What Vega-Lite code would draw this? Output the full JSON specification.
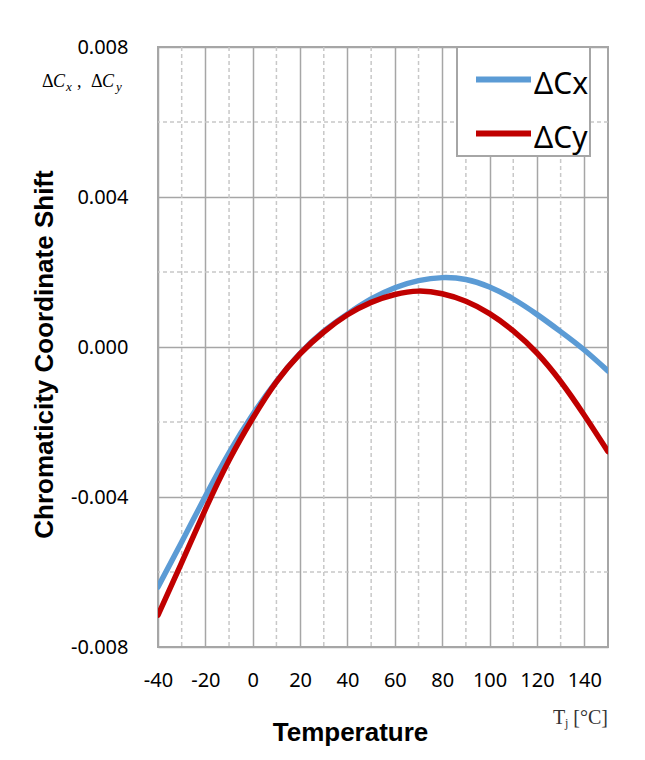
{
  "$schema": "https://vega.github.io/schema/vega-lite/v6.json",
  "autosize": "none",
  "width": 450,
  "height": 600,
  "padding": {"left": 158, "top": 47, "right": 37, "bottom": 113},
  "background": "white",
  "config": {
    "view": {"stroke": "#a6a6a6", "strokeWidth": 2},
    "font": "Noto Sans",
    "axis": {
      "domain": false,
      "ticks": false,
      "labelFont": "Noto Sans",
      "labelFontSize": 20,
      "labelColor": "#000000",
      "labelOverlap": false,
      "labelFlush": false,
      "gridColor": "#a6a6a6",
      "gridWidth": 1.5,
      "titleFont": "Liberation Sans",
      "titleFontWeight": "bold",
      "titleFontSize": 26,
      "titleColor": "#000000"
    }
  },
  "datasets": {
    "curves": [
      {"T": -40, "series": "ΔCx", "shift": -0.0064},
      {"T": -30, "series": "ΔCx", "shift": -0.0052},
      {"T": -20, "series": "ΔCx", "shift": -0.00398},
      {"T": -10, "series": "ΔCx", "shift": -0.00282},
      {"T": 0, "series": "ΔCx", "shift": -0.0018},
      {"T": 10, "series": "ΔCx", "shift": -0.00092},
      {"T": 20, "series": "ΔCx", "shift": -0.00017},
      {"T": 30, "series": "ΔCx", "shift": 0.00042},
      {"T": 40, "series": "ΔCx", "shift": 0.00088},
      {"T": 50, "series": "ΔCx", "shift": 0.00128},
      {"T": 60, "series": "ΔCx", "shift": 0.00158},
      {"T": 70, "series": "ΔCx", "shift": 0.00177},
      {"T": 80, "series": "ΔCx", "shift": 0.00185},
      {"T": 90, "series": "ΔCx", "shift": 0.0018},
      {"T": 100, "series": "ΔCx", "shift": 0.0016},
      {"T": 110, "series": "ΔCx", "shift": 0.00128},
      {"T": 120, "series": "ΔCx", "shift": 0.00087},
      {"T": 130, "series": "ΔCx", "shift": 0.00041},
      {"T": 140, "series": "ΔCx", "shift": -0.00008},
      {"T": 150, "series": "ΔCx", "shift": -0.00064},
      {"T": -40, "series": "ΔCy", "shift": -0.00715},
      {"T": -30, "series": "ΔCy", "shift": -0.00575},
      {"T": -20, "series": "ΔCy", "shift": -0.00433},
      {"T": -10, "series": "ΔCy", "shift": -0.00302},
      {"T": 0, "series": "ΔCy", "shift": -0.0019},
      {"T": 10, "series": "ΔCy", "shift": -0.00093},
      {"T": 20, "series": "ΔCy", "shift": -0.00018},
      {"T": 30, "series": "ΔCy", "shift": 0.0004},
      {"T": 40, "series": "ΔCy", "shift": 0.00086},
      {"T": 50, "series": "ΔCy", "shift": 0.00119},
      {"T": 60, "series": "ΔCy", "shift": 0.0014},
      {"T": 70, "series": "ΔCy", "shift": 0.00149},
      {"T": 80, "series": "ΔCy", "shift": 0.00142},
      {"T": 90, "series": "ΔCy", "shift": 0.00122},
      {"T": 100, "series": "ΔCy", "shift": 0.00089},
      {"T": 110, "series": "ΔCy", "shift": 0.00043},
      {"T": 120, "series": "ΔCy", "shift": -0.00016},
      {"T": 130, "series": "ΔCy", "shift": -0.00092},
      {"T": 140, "series": "ΔCy", "shift": -0.00182},
      {"T": 150, "series": "ΔCy", "shift": -0.00279}
    ],
    "minorT": [{"T": -30}, {"T": -10}, {"T": 10}, {"T": 30}, {"T": 50}, {"T": 70}, {"T": 90}, {"T": 110}, {"T": 130}],
    "minorShift": [{"shift": -0.006}, {"shift": -0.002}, {"shift": 0.002}, {"shift": 0.006}],
    "single": [{}]
  },
  "layer": [
    {
      "data": {"name": "minorT"},
      "mark": {"type": "rule", "color": "#c8c8c8", "strokeWidth": 1.5, "strokeDash": [4, 3]},
      "encoding": {"x": {"field": "T", "type": "quantitative"}}
    },
    {
      "data": {"name": "minorShift"},
      "mark": {"type": "rule", "color": "#c8c8c8", "strokeWidth": 1.5, "strokeDash": [4, 3]},
      "encoding": {"y": {"field": "shift", "type": "quantitative"}}
    },
    {
      "data": {"name": "curves"},
      "mark": {"type": "line", "interpolate": "natural", "strokeWidth": 5.5, "strokeCap": "round", "clip": true},
      "encoding": {
        "x": {
          "field": "T",
          "type": "quantitative",
          "scale": {"domain": [-40, 150], "nice": false, "zero": false},
          "axis": {
            "values": [-40, -20, 0, 20, 40, 60, 80, 100, 120, 140],
            "labelExpr": "replace(format(datum.value, 'd'), '\u2212', '-')",
            "labelPadding": 23,
            "labelBaseline": "top",
            "grid": true,
            "title": "Temperature",
            "titleX": 192,
            "titleY": 93,
            "titleBaseline": "alphabetic"
          }
        },
        "y": {
          "field": "shift",
          "type": "quantitative",
          "scale": {"domain": [-0.008, 0.008], "nice": false, "zero": false},
          "axis": {
            "values": [-0.008, -0.004, 0, 0.004, 0.008],
            "labelExpr": "replace(format(datum.value, '.3f'), '\u2212', '-')",
            "labelPadding": 30,
            "grid": true,
            "title": "Chromaticity Coordinate Shift",
            "titleX": -106,
            "titleY": 307,
            "titleBaseline": "alphabetic",
            "titleAngle": -90
          }
        },
        "color": {
          "field": "series",
          "type": "nominal",
          "scale": {"domain": ["ΔCx", "ΔCy"], "range": ["#5b9bd5", "#c00000"]},
          "legend": {
            "orient": "none",
            "legendX": 299,
            "legendY": 0,
            "title": null,
            "fillColor": "#ffffff",
            "strokeColor": "#a6a6a6",
            "padding": 2,
            "symbolType": "stroke",
            "symbolSize": 3025,
            "symbolStrokeWidth": 6,
            "symbolOffset": 14,
            "labelFont": "Noto Sans",
            "labelFontSize": 30,
            "labelColor": "#000000",
            "labelOffset": 0,
            "rowPadding": 3,
            "labelLimit": 200,
            "encode": {
              "legend": {"update": {"strokeWidth": {"value": 2}}},
              "labels": {"update": {"dy": {"value": 5}}}
            }
          }
        }
      }
    },
    {
      "data": {"name": "single"},
      "mark": {"type": "text", "font": "Liberation Serif", "fontSize": 18, "align": "left", "baseline": "alphabetic", "dx": -116, "dy": 40, "text": "Δ", "color": "#000000"},
      "encoding": {"x": {"datum": -40}, "y": {"datum": 0.008}}
    },
    {
      "data": {"name": "single"},
      "mark": {"type": "text", "font": "Liberation Serif", "fontStyle": "italic", "fontSize": 18, "align": "left", "baseline": "alphabetic", "dx": -105, "dy": 40, "text": "C", "color": "#000000"},
      "encoding": {"x": {"datum": -40}, "y": {"datum": 0.008}}
    },
    {
      "data": {"name": "single"},
      "mark": {"type": "text", "font": "Liberation Serif", "fontStyle": "italic", "fontSize": 13, "align": "left", "baseline": "alphabetic", "dx": -92, "dy": 44, "text": "x", "color": "#000000"},
      "encoding": {"x": {"datum": -40}, "y": {"datum": 0.008}}
    },
    {
      "data": {"name": "single"},
      "mark": {"type": "text", "font": "Liberation Serif", "fontSize": 18, "align": "left", "baseline": "alphabetic", "dx": -81, "dy": 40, "text": ",", "color": "#000000"},
      "encoding": {"x": {"datum": -40}, "y": {"datum": 0.008}}
    },
    {
      "data": {"name": "single"},
      "mark": {"type": "text", "font": "Liberation Serif", "fontSize": 18, "align": "left", "baseline": "alphabetic", "dx": -67, "dy": 40, "text": "Δ", "color": "#000000"},
      "encoding": {"x": {"datum": -40}, "y": {"datum": 0.008}}
    },
    {
      "data": {"name": "single"},
      "mark": {"type": "text", "font": "Liberation Serif", "fontStyle": "italic", "fontSize": 18, "align": "left", "baseline": "alphabetic", "dx": -56, "dy": 40, "text": "C", "color": "#000000"},
      "encoding": {"x": {"datum": -40}, "y": {"datum": 0.008}}
    },
    {
      "data": {"name": "single"},
      "mark": {"type": "text", "font": "Liberation Serif", "fontStyle": "italic", "fontSize": 13, "align": "left", "baseline": "alphabetic", "dx": -42, "dy": 44, "text": "y", "color": "#000000"},
      "encoding": {"x": {"datum": -40}, "y": {"datum": 0.008}}
    },
    {
      "data": {"name": "single"},
      "mark": {"type": "text", "font": "Liberation Serif", "fontSize": 20, "align": "left", "baseline": "alphabetic", "dx": -55, "dy": 77, "text": "T", "color": "#333333"},
      "encoding": {"x": {"datum": 150}, "y": {"datum": -0.008}}
    },
    {
      "data": {"name": "single"},
      "mark": {"type": "text", "font": "Liberation Serif", "fontSize": 12, "align": "left", "baseline": "alphabetic", "dx": -43, "dy": 80, "text": "j", "color": "#333333"},
      "encoding": {"x": {"datum": 150}, "y": {"datum": -0.008}}
    },
    {
      "data": {"name": "single"},
      "mark": {"type": "text", "font": "Liberation Serif", "fontSize": 20, "align": "right", "baseline": "alphabetic", "dx": 0, "dy": 77, "text": "[°C]", "color": "#333333"},
      "encoding": {"x": {"datum": 150}, "y": {"datum": -0.008}}
    }
  ]
}
